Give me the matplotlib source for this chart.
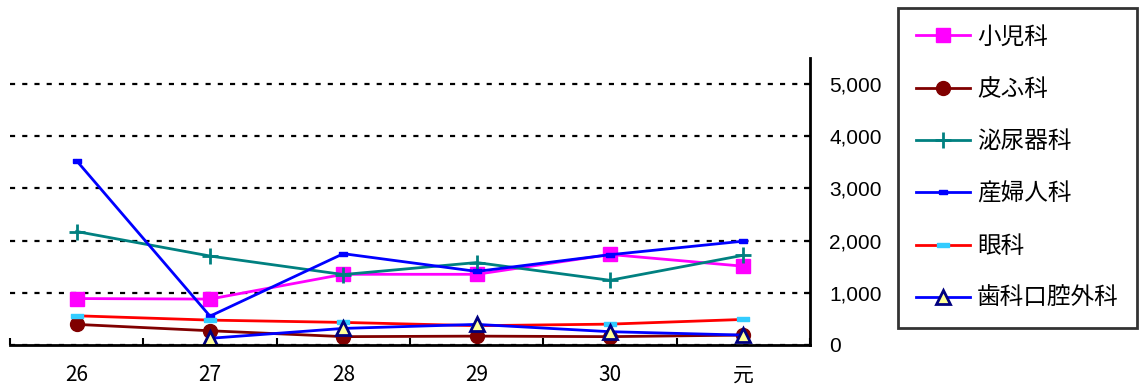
import numpy as np
import matplotlib
matplotlib.use("Agg")
import matplotlib.pyplot as plt
from matplotlib.ticker import FuncFormatter, FixedLocator

years = ["26", "27", "28", "29", "30", "元"]

pediatrics = [890, 880, 1355, 1355, 1735, 1510]
dermatology = [395, 273, 160, 170, 160, 190]
urology = [2175, 1705, 1350, 1580, 1240, 1720]
obstetrics = [3530, 553, 1750, 1410, 1730, 1990]
ophthalmology = [560, 477, 433, 370, 400, 490]
oral_surgery = [np.nan, 128, 318, 395, 255, 190]

JP = "Noto Sans CJK JP"

fig = plt.figure(figsize=(11.42, 3.91), dpi=100)
ax = fig.add_axes([10 / 1142, 46 / 391, 800 / 1142, 287 / 391])

x = np.arange(len(years))
rect_small = [(-1, -0.5), (1, -0.5), (1, 0.5), (-1, 0.5), (-1, -0.5)]
rect_wide = [(-1, -0.38), (1, -0.38), (1, 0.38), (-1, 0.38), (-1, -0.38)]

ax.plot(x, pediatrics, color="#FF00FF", lw=2, marker="s", ms=10, label="小児科")
ax.plot(x, dermatology, color="#800000", lw=2, marker="o", ms=10, label="皮ふ科")
ax.plot(x, urology, color="#008080", lw=2, marker="+", ms=11, mew=2, label="泌尿器科")
ax.plot(x, obstetrics, color="#0000FF", lw=2, marker=rect_small, ms=6, label="産婦人科")
ax.plot(x, ophthalmology, color="#FF0000", lw=2, marker=rect_wide, ms=9,
        mfc="#33CCFF", mec="#33CCFF", label="眼科")
ax.plot(x, oral_surgery, color="#0000FF", lw=2, marker="^", ms=10, mfc="#FFFF99",
        mec="#000080", mew=2, label="歯科口腔外科")

ax.set_xlim(-0.5, len(years) - 0.5)
ax.set_ylim(0, 5500)

# category labels at centers, tick marks at the boundaries
ax.set_xticks(x)
ax.set_xticklabels(years, fontsize=15, family=[JP, "DejaVu Sans"])
ax.tick_params(axis="x", which="major", length=0, pad=14)
ax.xaxis.set_minor_locator(FixedLocator(np.arange(-0.5, len(years), 1.0)))
ax.tick_params(axis="x", which="minor", direction="in", length=5, width=1.5)

ax.yaxis.tick_right()
ax.set_yticks(np.arange(0, 5001, 1000))
ax.yaxis.set_major_formatter(FuncFormatter(lambda v, p: f"{int(v):,}"))
ax.tick_params(axis="y", direction="in", length=4, width=1.5, pad=14, labelsize=15)
for lab in ax.get_yticklabels():
    lab.set_family("Liberation Sans")

ax.yaxis.grid(True, color="black", lw=1.6, ls=(0, (2.3, 3.2)))
ax.set_axisbelow(True)

for side in ["top", "left"]:
    ax.spines[side].set_visible(False)
ax.spines["bottom"].set_linewidth(2)
ax.spines["right"].set_linewidth(2)

leg = fig.legend(loc="upper left", bbox_to_anchor=(898 / 1142, 1 - 8 / 391),
                 prop={"family": JP, "size": 17}, frameon=True, fancybox=False,
                 edgecolor="black", handlelength=2.3, handletextpad=0.3,
                 labelspacing=1.24, borderpad=0.75, borderaxespad=0)
leg.get_frame().set_linewidth(2)

fig.savefig("out.png", dpi=100, facecolor="white")
